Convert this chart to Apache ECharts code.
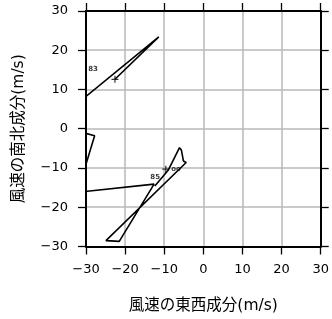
<!DOCTYPE html>
<html>
<head>
<meta charset="utf-8">
<script src="https://cdn.jsdelivr.net/npm/echarts@6/dist/echarts.min.js"></script>
<style>html,body{margin:0;padding:0;background:#fff}#c{width:332px;height:319px}</style>
</head>
<body>
<div id="c"></div>
<script>
// ---- data ----
var xTicks = [-30, -20, -10, 0, 10, 20, 30];
var yTicks = [-30, -20, -10, 0, 10, 20, 30];
// upper hodograph segment (u, v) in m/s
var upperU = [-32.5, -11.4, -22.6];
var upperV = [6.2, 23.4, 12.6];
// lower hodograph segment (u, v) in m/s
var lowerU = [-32.0, -27.8, -31.5, -33.0, -12.6, -21.5, -24.9, -4.4, -5.1, -5.6, -6.1, -9.0, -12.4];
var lowerV = [-0.6, -1.8, -14.0, -16.3, -14.1, -28.7, -28.5, -8.6, -8.2, -5.5, -4.8, -10.6, -14.6];
// annotations
var plusU = [-22.6, -9.6];
var plusV = [12.6, -10.3];
var textU = [-28.2, -12.3, -7.0];
var textV = [15.2, -12.4, -10.2];
var textLabel = ['83', '85', 'oo'];

function pairs(u, v) { return u.map(function (x, i) { return [x, v[i]]; }); }
function fmt(v) { return String(v).replace('-', '\u2212'); }

var latin = 'DejaVu Sans';
var mixed = '"DejaVu Sans", "Noto Sans CJK JP"';
var chart = echarts.init(document.getElementById('c'), null, {renderer: 'canvas'});
var axisCommon = {
  type: 'value', min: -30, max: 30, interval: 10,
  axisLine: {show: true, onZero: false, lineStyle: {color: '#000', width: 2}},
  axisTick: {show: true, inside: false, length: 8, lineStyle: {color: '#000', width: 1.3}},
  splitLine: {show: false}
};
var nameStyle = {fontFamily: mixed, fontSize: 15.5, color: '#000'};
chart.setOption({
  animation: false,
  backgroundColor: '#fff',
  grid: {left: 86, right: 10, top: 11, bottom: 72, containLabel: false},
  xAxis: [
    Object.assign({}, axisCommon, {
      position: 'bottom',
      splitLine: {show: true, lineStyle: {color: '#b8b8b8', width: 1.5}},
      axisLabel: {margin: 17, color: '#000', fontFamily: latin, fontSize: 13, formatter: fmt},
      name: '風速の東西成分(m/s)',
      nameLocation: 'middle', nameGap: 52,
      nameTextStyle: nameStyle
    }),
    Object.assign({}, axisCommon, {position: 'top', axisLabel: {show: false}})
  ],
  yAxis: [
    Object.assign({}, axisCommon, {
      position: 'left',
      splitLine: {show: true, lineStyle: {color: '#b8b8b8', width: 1.5}},
      axisLabel: {margin: 18, color: '#000', fontFamily: latin, fontSize: 13, formatter: fmt},
      name: '風速の南北成分(m/s)',
      nameLocation: 'middle', nameGap: 59, nameRotate: 90,
      nameTextStyle: nameStyle
    }),
    Object.assign({}, axisCommon, {position: 'right', axisLabel: {show: false}})
  ],
  series: [
    {type: 'line', data: pairs(upperU, upperV), showSymbol: false, symbol: 'none', clip: true,
     lineStyle: {color: '#000', width: 1.6}},
    {type: 'line', data: pairs(lowerU, lowerV), showSymbol: false, symbol: 'none', clip: true,
     lineStyle: {color: '#000', width: 1.6}},
    {type: 'scatter', clip: true, data: pairs(plusU, plusV),
     symbol: 'path://M5,0L5,10M0,5L10,5', symbolSize: 7,
     itemStyle: {color: 'none', borderColor: '#000', borderWidth: 1.2}},
    {type: 'scatter', symbolSize: 0, clip: true,
     data: textU.map(function (u, i) { return {value: [u, textV[i]], label: {formatter: textLabel[i]}}; }),
     label: {show: true, position: 'inside', color: '#000', fontFamily: latin, fontSize: 7, fontWeight: 'bold'}}
  ]
});
</script>
</body>
</html>
